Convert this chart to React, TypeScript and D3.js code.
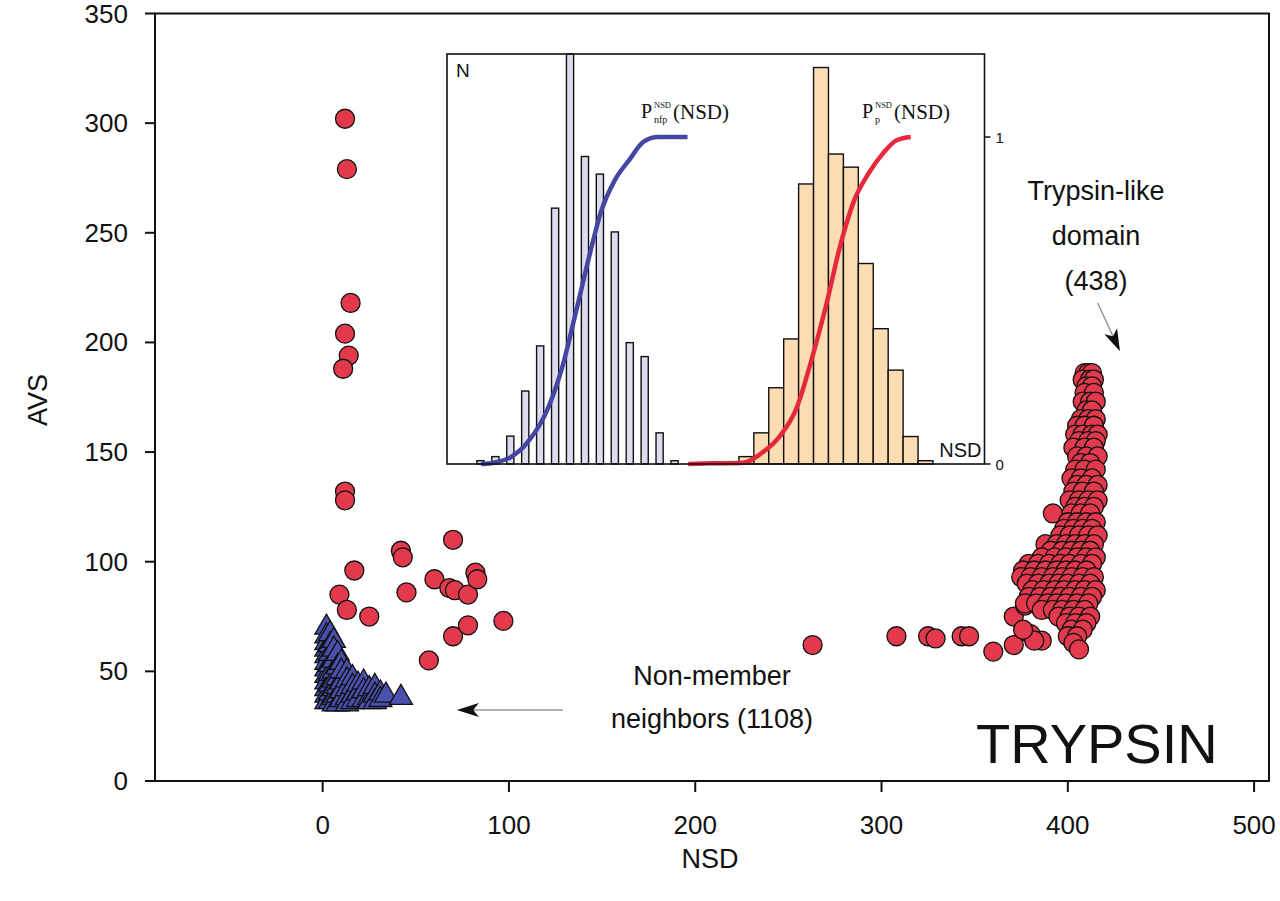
import React from 'react';
import * as d3 from 'd3';

const xTicks = [0, 100, 200, 300, 400, 500];
const yTicks = [0, 50, 100, 150, 200, 250, 300, 350];

// Trypsin-like domain members (NSD, AVS)
const memberSparse: [number, number][] = [
  [12, 302], [13, 279], [15, 218], [12, 204], [14, 194], [11, 188], [12, 132], [12, 128],
  [17, 96], [9, 85], [13, 78], [25, 75], [42, 105], [43, 102], [45, 86], [57, 55],
  [60, 92], [68, 88], [70, 110], [71, 87], [70, 66], [78, 85], [82, 95], [83, 92], [78, 71], [97, 73],
  [263, 62], [308, 66], [325, 66], [329, 65], [343, 66], [347, 66], [360, 59], [371, 62],
  [371, 75], [377, 80], [380, 67], [386, 64], [382, 64], [376, 69],
];

const memberCluster: [number, number][] = [
  [409, 186], [411, 186], [413, 186], [408, 183], [412, 183], [414, 183], [410, 180], [413, 180],
  [409, 177], [414, 177], [408, 173], [412, 173], [415, 173], [410, 169], [413, 169],
  [407, 165], [411, 165], [415, 165], [405, 162], [409, 162], [414, 162],
  [404, 158], [408, 158], [413, 158], [416, 158], [406, 155], [411, 155], [415, 155],
  [403, 152], [409, 152], [414, 152], [405, 148], [410, 148], [416, 148], [407, 145], [412, 145],
  [404, 142], [409, 142], [415, 142], [402, 138], [407, 138], [413, 138],
  [405, 135], [410, 135], [416, 135], [403, 132], [408, 132], [414, 132],
  [401, 128], [406, 128], [411, 128], [416, 128], [404, 125], [409, 125], [414, 125],
  [392, 122], [402, 122], [407, 122], [412, 122], [400, 118], [405, 118], [410, 118], [415, 118],
  [398, 115], [403, 115], [408, 115], [413, 115], [396, 112], [401, 112], [406, 112], [411, 112], [416, 112],
  [388, 108], [394, 108], [399, 108], [404, 108], [409, 108], [414, 108],
  [391, 105], [397, 105], [402, 105], [407, 105], [412, 105],
  [386, 102], [393, 102], [399, 102], [405, 102], [410, 102], [415, 102],
  [379, 99], [384, 99], [390, 99], [396, 99], [401, 99], [407, 99], [413, 99],
  [376, 96], [382, 96], [388, 96], [394, 96], [399, 96], [404, 96], [410, 96],
  [375, 93], [380, 93], [386, 93], [392, 93], [397, 93], [402, 93], [408, 93], [414, 93],
  [378, 90], [384, 90], [390, 90], [395, 90], [400, 90], [406, 90], [412, 90],
  [381, 87], [387, 87], [393, 87], [398, 87], [404, 87], [409, 87], [415, 87],
  [379, 84], [385, 84], [391, 84], [396, 84], [401, 84], [407, 84], [413, 84],
  [377, 81], [383, 81], [389, 81], [394, 81], [399, 81], [405, 81], [411, 81],
  [386, 78], [392, 78], [397, 78], [403, 78], [409, 78],
  [395, 75], [401, 75], [406, 75], [412, 75], [399, 72], [404, 72], [410, 72],
  [402, 69], [408, 69], [400, 66], [405, 66], [403, 63], [406, 60],
];

// Non-member neighbors (NSD, AVS)
const neighborPoints: [number, number][] = [
  [2, 70], [2, 66], [2, 63], [2, 60], [2, 57], [2, 54], [2, 51], [2, 48], [2, 45], [2, 42], [2, 39], [2, 36],
  [4, 67], [4, 62], [4, 58], [4, 53], [4, 49], [4, 44], [4, 40], [4, 36],
  [6, 64], [6, 60], [6, 55], [6, 50], [6, 46], [6, 42], [6, 38], [6, 35],
  [8, 58], [8, 52], [8, 47], [8, 43], [8, 39], [8, 35],
  [10, 54], [10, 50], [10, 45], [10, 41], [10, 37],
  [13, 50], [13, 46], [13, 42], [13, 38], [13, 35],
  [16, 47], [16, 43], [16, 39], [16, 36],
  [19, 44], [19, 40], [19, 37], [22, 45], [22, 41], [22, 37],
  [25, 42], [25, 38], [25, 36], [28, 43], [28, 39], [28, 36],
  [31, 40], [31, 37], [34, 39], [42, 38],
];

// Inset histograms (bin start, count) and cumulative curves
const nfpBins = [2, 3, 4, 5, 6, 7, 8, 9, 10, 11, 12, 13, 14, 15];
const nfpCounts = [0.8, 1.8, 6.8, 17.8, 28.8, 62.4, 100, 75, 70.7, 56.6, 29.6, 26.2, 7.6, 0.8];
const pBins = [19.55, 20.55, 21.55, 22.55, 23.55, 24.55, 25.55, 26.55, 27.55, 28.55, 29.55, 30.55, 31.55];
const pCounts = [1.8, 7.6, 18.6, 30.5, 68.3, 96.7, 75.6, 72.4, 48.9, 33, 22.9, 6.7, 0.8];
const nfpCdfX = [2.28, 3.12, 4.31, 5.51, 6.71, 7.66, 8.62, 9.58, 10.29, 11.25, 12.21, 13.17, 14.13, 16.11];
const nfpCdfY = [0, 0.004, 0.022, 0.073, 0.165, 0.287, 0.462, 0.645, 0.768, 0.869, 0.93, 0.986, 1, 1];
const pCdfX = [16.16, 17.71, 19.87, 21.06, 22.26, 23.45, 24.41, 25.37, 26.32, 27.28, 28.24, 29.2, 30.15, 31.06];
const pCdfY = [0, 0.002, 0.004, 0.033, 0.083, 0.175, 0.318, 0.481, 0.665, 0.807, 0.889, 0.95, 0.991, 1];
const cdfTicks = [0, 1];

const SANS = 'Arial, "Liberation Sans", Helvetica, sans-serif';
const SERIF = '"Liberation Serif", "Times New Roman", serif';

export default function App() {
  const x = d3.scaleLinear().domain([-90, 508]).range([155, 1269]);
  const y = d3.scaleLinear().domain([0, 350]).range([781, 13.5]);

  const ix = d3.scaleLinear().domain([0, 36]).range([447, 984.5]);
  const iy = d3.scaleLinear().domain([0, 100]).range([464, 54]);
  const ic = d3.scaleLinear().domain([0, 1]).range([464, 137]);

  const cdfLine = d3
    .line<[number, number]>()
    .x((d) => ix(d[0]))
    .y((d) => ic(d[1]))
    .curve(d3.curveMonotoneX);

  const nfpPath = cdfLine(nfpCdfX.map((v, i) => [v, nfpCdfY[i]] as [number, number])) || '';
  const pPath = cdfLine(pCdfX.map((v, i) => [v, pCdfY[i]] as [number, number])) || '';

  const tri = d3.symbol().type(d3.symbolTriangle).size(230)() || '';

  const members = [...memberSparse, ...memberCluster];

  const x0 = x.range()[0];
  const x1 = x.range()[1];
  const y0 = y.range()[0];
  const y1 = y.range()[1];

  // annotation arrows (in data coordinates)
  const rArrowTail = [x(416), y(218)];
  const rArrowTip = [x(428), y(196)];
  const lArrowTail = [x(129), y(32.4)];
  const lArrowTip = [x(72), y(32.4)];

  const angR = Math.atan2(rArrowTip[1] - rArrowTail[1], rArrowTip[0] - rArrowTail[0]);
  const headLen = 22;
  const headW = 7;
  const headPath = (tip: number[], ang: number) => {
    const bx = tip[0] - headLen * Math.cos(ang);
    const by = tip[1] - headLen * Math.sin(ang);
    const px = -Math.sin(ang) * headW;
    const py = Math.cos(ang) * headW;
    return `M${tip[0]},${tip[1]}L${bx + px},${by + py}L${bx + headLen * 0.25 * Math.cos(ang)},${by + headLen * 0.25 * Math.sin(ang)}L${bx - px},${by - py}Z`;
  };

  return (
    <svg
      width={1280}
      height={901}
      style={{ position: 'absolute', left: 0, top: 0, background: '#fff' }}
      xmlns="http://www.w3.org/2000/svg"
    >
      <rect x={0} y={0} width={1280} height={901} fill="#fff" />

      {/* main frame */}
      <rect x={x0} y={y1} width={x1 - x0} height={y0 - y1} fill="none" stroke="#111" strokeWidth={2} />

      {/* y ticks */}
      {yTicks.map((t) => (
        <g key={'yt' + t}>
          <line x1={x0 - 10} x2={x0} y1={y(t)} y2={y(t)} stroke="#111" strokeWidth={2} />
          <text x={128} y={y(t) + 9} textAnchor="end" fontFamily={SANS} fontSize={26} fill="#111">
            {t}
          </text>
        </g>
      ))}
      {/* x ticks */}
      {xTicks.map((t) => (
        <g key={'xt' + t}>
          <line x1={x(t)} x2={x(t)} y1={y0} y2={y0 + 11} stroke="#111" strokeWidth={2} />
          <text x={x(t)} y={834} textAnchor="middle" fontFamily={SANS} fontSize={26} fill="#111">
            {t}
          </text>
        </g>
      ))}

      <text x={710} y={868} textAnchor="middle" fontFamily={SANS} fontSize={27} fill="#111">
        NSD
      </text>
      <text
        transform={`translate(47,400) rotate(-90)`}
        textAnchor="middle"
        fontFamily={SANS}
        fontSize={27}
        fill="#111"
      >
        AVS
      </text>

      {/* inset */}
      <g>
        {nfpBins.map((b, i) => (
          <rect
            key={'nb' + i}
            x={ix(b)}
            y={iy(nfpCounts[i])}
            width={ix(b + 0.48) - ix(b)}
            height={iy(0) - iy(nfpCounts[i])}
            fill="#dcdcee"
            stroke="#111"
            strokeWidth={1.4}
          />
        ))}
        {pBins.map((b, i) => (
          <rect
            key={'pb' + i}
            x={ix(b)}
            y={iy(pCounts[i])}
            width={ix(b + 1) - ix(b)}
            height={iy(0) - iy(pCounts[i])}
            fill="#fcdcb2"
            stroke="#111"
            strokeWidth={1.4}
          />
        ))}
        <path d={nfpPath} fill="none" stroke="#4347a2" strokeWidth={4.5} strokeLinejoin="round" />
        <path d={pPath} fill="none" stroke="#e6283c" strokeWidth={4.5} strokeLinejoin="round" />
        <rect
          x={ix(0)}
          y={iy(100)}
          width={ix(36) - ix(0)}
          height={iy(0) - iy(100)}
          fill="none"
          stroke="#111"
          strokeWidth={1.6}
        />
        {cdfTicks.map((t) => (
          <g key={'ct' + t}>
            <line x1={ix(36)} x2={ix(36) + 6} y1={ic(t)} y2={ic(t)} stroke="#111" strokeWidth={1.5} />
            <text x={ix(36) + 11} y={ic(t) + 6} fontFamily={SANS} fontSize={15} fill="#111">
              {t}
            </text>
          </g>
        ))}
        <text x={ix(0) + 9} y={iy(100) + 23} fontFamily={SANS} fontSize={19} fill="#111">
          N
        </text>
        <text x={ix(36) - 3} y={iy(0) - 7} textAnchor="end" fontFamily={SANS} fontSize={20} fill="#111">
          NSD
        </text>

        {/* P_nfp^NSD(NSD) */}
        <text x={641} y={118} fontFamily={SERIF} fontSize={20} fill="#111">P</text>
        <text x={654} y={108} fontFamily={SERIF} fontSize={8.5} fill="#111">NSD</text>
        <text x={654} y={123} fontFamily={SERIF} fontSize={10} fill="#111">nfp</text>
        <text x={673} y={119} fontFamily={SERIF} fontSize={21} fill="#111">(NSD)</text>

        {/* P_p^NSD(NSD) */}
        <text x={862} y={118} fontFamily={SERIF} fontSize={20} fill="#111">P</text>
        <text x={875} y={108} fontFamily={SERIF} fontSize={8.5} fill="#111">NSD</text>
        <text x={875} y={123} fontFamily={SERIF} fontSize={10} fill="#111">p</text>
        <text x={894} y={119} fontFamily={SERIF} fontSize={21} fill="#111">(NSD)</text>
      </g>

      {/* members */}
      {members.map((d, i) => (
        <circle
          key={'m' + i}
          cx={x(d[0])}
          cy={y(d[1])}
          r={9.5}
          fill="#e23a4c"
          stroke="#111"
          strokeWidth={1.3}
        />
      ))}
      {/* neighbors */}
      {neighborPoints.map((d, i) => (
        <path
          key={'n' + i}
          d={tri}
          transform={`translate(${x(d[0])},${y(d[1])})`}
          fill="#4a50ae"
          stroke="#111"
          strokeWidth={1.3}
        />
      ))}

      {/* annotations */}
      <g fontFamily={SANS} fontSize={27} fill="#111" textAnchor="middle">
        <text x={1096} y={200}>Trypsin-like</text>
        <text x={1096} y={245}>domain</text>
        <text x={1096} y={290}>(438)</text>
        <text x={712} y={685}>Non-member</text>
        <text x={712} y={728}>neighbors (1108)</text>
      </g>
      <text x={976} y={763} fontFamily={SANS} fontSize={56} fill="#111">
        TRYPSIN
      </text>

      <line
        x1={rArrowTail[0]}
        y1={rArrowTail[1]}
        x2={rArrowTip[0] - 15 * Math.cos(angR)}
        y2={rArrowTip[1] - 15 * Math.sin(angR)}
        stroke="#999"
        strokeWidth={1.5}
      />
      <path d={headPath(rArrowTip, angR)} fill="#111" />
      <line
        x1={lArrowTail[0]}
        y1={lArrowTail[1]}
        x2={lArrowTip[0] + 15}
        y2={lArrowTip[1]}
        stroke="#999"
        strokeWidth={1.5}
      />
      <path d={headPath(lArrowTip, Math.PI)} fill="#111" />
    </svg>
  );
}
